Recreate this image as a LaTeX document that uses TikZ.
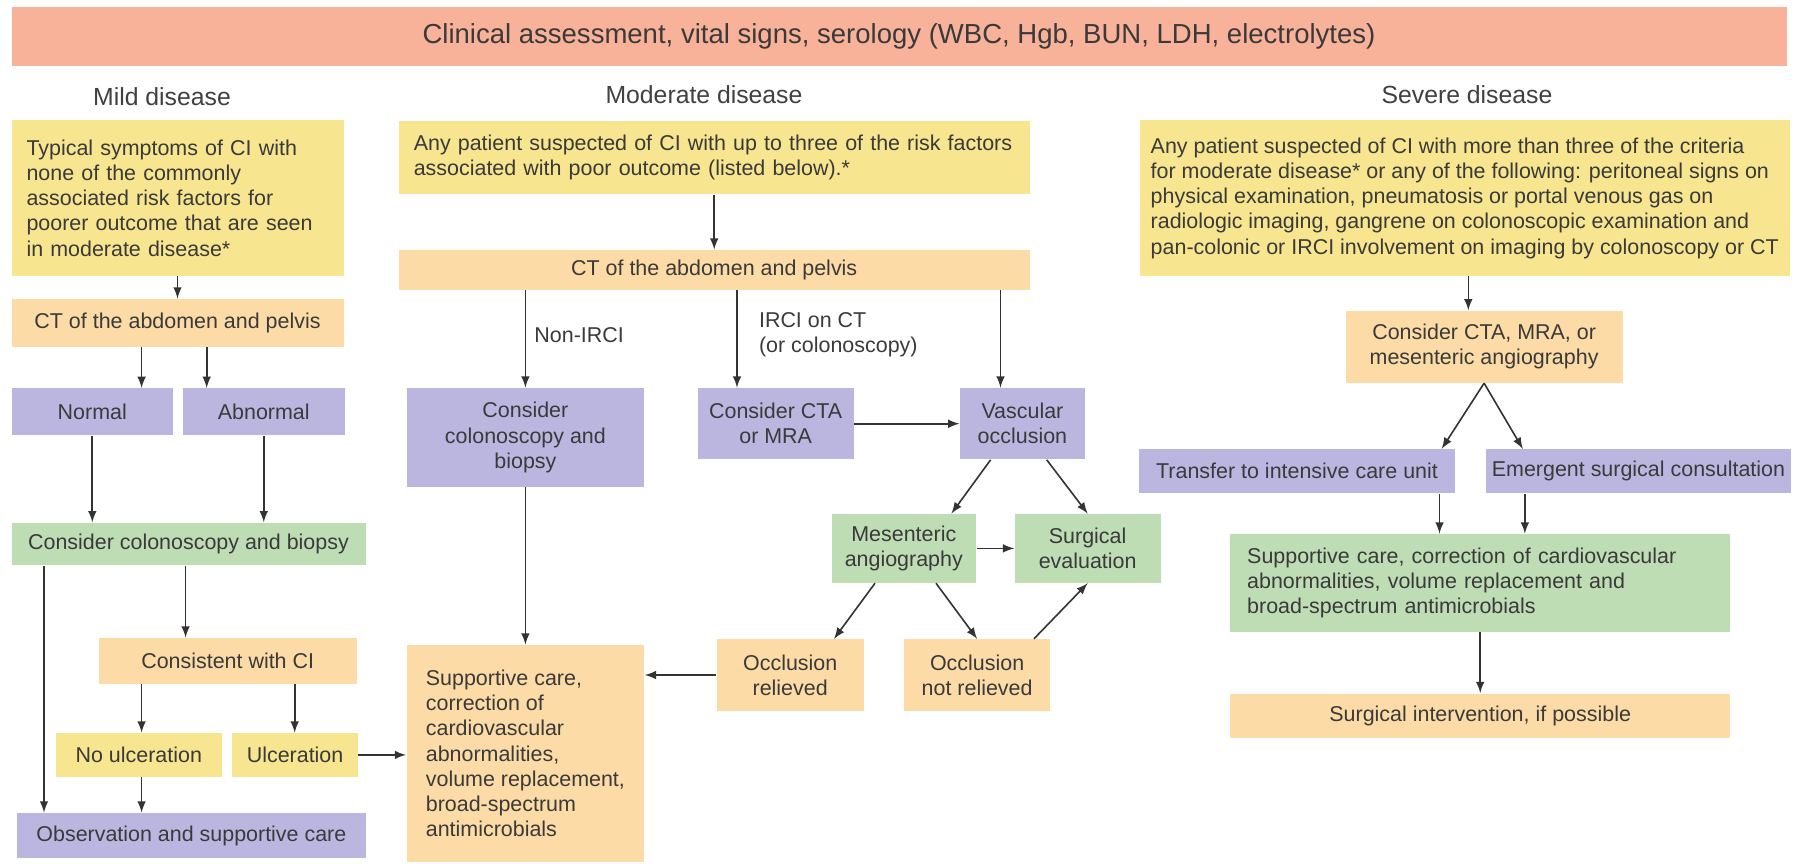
\documentclass[tikz,border=0pt]{standalone}
\usepackage{fontspec}
\setmainfont{Liberation Sans}
\usepackage{xcolor}
\usepackage{tikz}
\usetikzlibrary{calc}
\usetikzlibrary{arrows}
\usetikzlibrary{positioning}

\definecolor{bannerc}{HTML}{F9B29A}
\definecolor{yelc}{HTML}{F7E58F}
\definecolor{orac}{HTML}{FCDBA6}
\definecolor{purc}{HTML}{BBB6E0}
\definecolor{grnc}{HTML}{BEDDB5}
\definecolor{txtc}{HTML}{3A3A3A}
\definecolor{linec}{HTML}{333333}

\newdimen\px
\px=0.436pt

\begin{document}
\begin{tikzpicture}[x=0.436pt,y=-0.436pt]
    \tikzstyle{every node}=[inner sep=0pt,text=txtc,font=\fontsize{9.35}{11}\selectfont]
    \tikzstyle{head}=[font=\fontsize{10.8}{13}\selectfont,text=black!75]
    \tikzstyle{ybox}=[fill=yelc,align=center]
    \tikzstyle{obox}=[fill=orac,align=center]
    \tikzstyle{pbox}=[fill=purc,align=center]
    \tikzstyle{gbox}=[fill=grnc,align=center]
    \tikzstyle{arr}=[draw=linec,line width=0.7pt,-latex]

    \useasboundingbox (0,0) rectangle (1798,863);

    \node[fill=bannerc,minimum width=1775\px,minimum height=59\px,font=\fontsize{12}{14}\selectfont] (top) at (899,36.5) {Clinical assessment, vital signs, serology (WBC, Hgb, BUN, LDH, electrolytes)};

    \node[head] (hmild) at (162,96.7) {Mild disease};
    \node[head] (hmod) at (704,95) {Moderate disease};
    \node[head] (hsev) at (1467,95) {Severe disease};

    \node[ybox,align=left,text width=302\px,inner xsep=15\px,minimum height=156\px] (mild) at (177.5,198) {Typical symptoms of CI with\\none of the commonly\\associated risk factors for\\poorer outcome that are seen\\in moderate disease*};
    \node[obox,minimum width=332\px,minimum height=48\px] (mildct) at (177.5,323) {CT of the abdomen and pelvis};
    \node[pbox,minimum width=161.5\px,minimum height=46.7\px] (normal) at (92.3,411.7) {Normal};
    \node[pbox,minimum width=162\px,minimum height=46.7\px,right=8.8\px of normal] (abnormal) {Abnormal};
    \node[gbox,minimum width=354\px,minimum height=42.3\px] (mildcol) at (188.5,543.9) {Consider colonoscopy and biopsy};
    \node[obox,minimum width=258\px,minimum height=46\px] (consist) at (227.7,661) {Consistent with CI};
    \node[ybox,minimum width=166.5\px,minimum height=43.7\px] (noulc) at (138.8,754.9) {No ulceration};
    \node[ybox,minimum width=125.2\px,minimum height=43.7\px,right=9.5\px of noulc] (ulc) {Ulceration};
    \node[pbox,minimum width=348.3\px,minimum height=45\px] (observ) at (191.4,835.5) {Observation and supportive care};

    \node[ybox,align=left,text width=600.8\px,inner xsep=15\px,minimum height=73.3\px] (mod) at (714.2,157.4) {Any patient suspected of CI with up to three of the risk factors\\associated with poor outcome (listed below).*};
    \node[obox,minimum width=630.8\px,minimum height=40\px] (modct) at (714.2,270) {CT of the abdomen and pelvis};
    \node[pbox,minimum width=237.8\px,minimum height=99\px] (modcol) at (525.4,437.5) {Consider\\colonoscopy and\\biopsy};
    \node[pbox,minimum width=155.6\px,minimum height=71.3\px] (modcta) at (775.7,423.7) {Consider CTA\\or MRA};
    \node[pbox,minimum width=125\px,minimum height=71.3\px,right=105.5\px of modcta] (vasc) {Vascular\\occlusion};
    \node[gbox,minimum width=144.5\px,minimum height=68.7\px] (mesang) at (903.8,548.4) {Mesenteric\\angiography};
    \node[gbox,minimum width=146\px,minimum height=68.7\px,right=37.7\px of mesang] (surgev) {Surgical\\evaluation};
    \node[obox,minimum width=147\px,minimum height=71.4\px] (occrel) at (790.2,675) {Occlusion\\relieved};
    \node[obox,minimum width=146.4\px,minimum height=71.4\px,right=39.3\px of occrel] (occnot) {Occlusion\\not relieved};
    \node[obox,align=left,minimum width=237.8\px,minimum height=216.7\px] (modsup) at (525.4,753.4) {Supportive care,\\correction of\\cardiovascular\\abnormalities,\\volume replacement,\\broad-spectrum\\antimicrobials};

    \node[anchor=west] (lnon) at (534,335) {Non-IRCI};
    \node[anchor=west,align=left] (lirci) at (758.6,335) {IRCI on CT\\(or colonoscopy)};

    \node[ybox,align=left,minimum width=650.5\px,minimum height=156\px] (sev) at (1464.8,198) {Any patient suspected of CI with more than three of the criteria\\for moderate disease* or any of the following: peritoneal signs on\\physical examination, pneumatosis or portal venous gas on\\radiologic imaging, gangrene on colonoscopic examination and\\pan-colonic or IRCI involvement on imaging by colonoscopy or CT};
    \node[obox,minimum width=277\px,minimum height=72\px] (sevcta) at (1484.1,346.7) {Consider CTA, MRA, or\\mesenteric angiography};
    \node[pbox,minimum width=315.1\px,minimum height=44\px] (transfer) at (1297,471.3) {Transfer to intensive care unit};
    \node[pbox,minimum width=304.8\px,minimum height=44\px,right=30.6\px of transfer] (emerg) {Emergent surgical consultation};
    \node[gbox,align=left,text width=466\px,inner xsep=17\px,minimum height=97.7\px] (sevsup) at (1480.2,582.9) {Supportive care, correction of cardiovascular\\abnormalities, volume replacement and\\broad-spectrum antimicrobials};
    \node[obox,minimum width=500\px,minimum height=44\px] (sevint) at (1480.2,715.5) {Surgical intervention, if possible};

    \newcommand{\vdrop}[3]{%
    \draw[arr] let \p1 = ($(#1.south)+(#3,0)$),
                   \p2 = (#2.north) in
               (\p1) -- (\x1,\y2) ;}

    \draw[arr] (mild) -- (mildct) ;
    \vdrop{mildct}{normal}{-35.9}
    \vdrop{mildct}{abnormal}{29.2}
    \draw[arr] (normal) -- (normal |- mildcol.north) ;
    \draw[arr] (abnormal) -- (abnormal |- mildcol.north) ;
    \vdrop{mildcol}{observ}{-144.5}
    \vdrop{mildcol}{consist}{-2.9}
    \vdrop{consist}{noulc}{-86.1}
    \vdrop{consist}{ulc}{67}
    \vdrop{noulc}{observ}{2.8}
    \draw[arr] (ulc) -- (ulc -| modsup.west) ;

    \draw[arr] (mod) -- (mod |- modct.north) ;
    \draw[arr] (modct.south -| modcol) -- (modcol) ;
    \vdrop{modct}{modcta}{22.8}
    \vdrop{modct}{vasc}{286.3}
    \draw[arr] (modcol) -- (modsup) ;
    \draw[arr] (modcta) -- (vasc) ;
    \draw[arr] ($(vasc.south)+(-31.8,0)$) -- ($(mesang.north)+(47.6,0)$) ;
    \draw[arr] ($(vasc.south)+(24.3,0)$) -- (surgev.north) ;
    \draw[arr] (mesang) -- (surgev) ;
    \draw[arr] ($(mesang.south)+(-28.8,0)$) -- ($(occrel.north)+(43.8,0)$) ;
    \draw[arr] ($(mesang.south)+(32.2,0)$) -- (occnot.north) ;
    \draw[arr] ($(occnot.north)+(56.8,0)$) -- (surgev.south) ;
    \draw[arr] (occrel) -- (occrel -| modsup.east) ;

    \vdrop{sev}{sevcta}{3.5}
    \draw[arr] (sevcta.south) -- ($(transfer.north)+(144.7,0)$) ;
    \draw[arr] (sevcta.south) -- ($(emerg.north)+(-115.7,0)$) ;
    \vdrop{transfer}{sevsup}{142.5}
    \vdrop{emerg}{sevsup}{-113.6}
    \draw[arr] (sevsup) -- (sevint) ;

\end{tikzpicture}
\end{document}
